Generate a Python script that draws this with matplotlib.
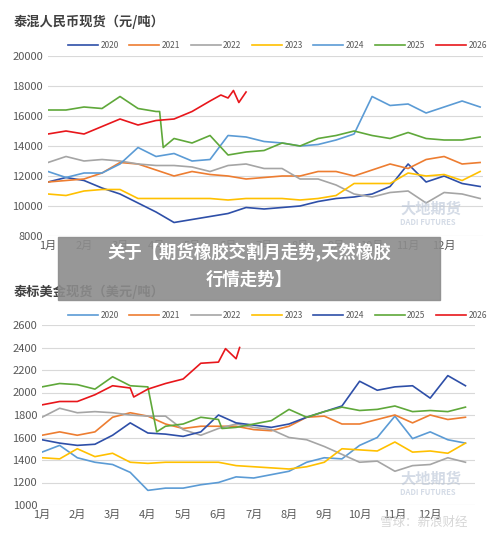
import matplotlib
matplotlib.use("Agg")
import matplotlib.pyplot as plt
import numpy as np

plt.rcParams['font.family'] = ['Noto Sans CJK SC', 'DejaVu Sans']

years = ['2020', '2021', '2022', '2023', '2024', '2025', '2026']
months = ['1月', '2月', '3月', '4月', '5月', '6月', '7月', '8月', '9月', '10月', '11月', '12月']
xg = list(np.arange(1, 13.01, 0.5))

# ---- top chart: RMB spot (元/吨)
top_x = {
    '2020': xg, '2021': xg, '2022': xg, '2023': xg, '2024': xg,
    '2025': [1, 1.5, 2, 2.5, 3, 3.5, 4, 4.1, 4.2, 4.5, 5, 5.5, 6, 6.5, 7, 7.5, 8, 8.5, 9, 9.5, 10, 10.5, 11, 11.5, 12, 12.5, 13],
    '2026': [1, 1.5, 2, 2.5, 3, 3.5, 4, 4.5, 5, 5.5, 5.8, 6, 6.15, 6.3, 6.5],
}
top_y = {
    '2020': [11600, 11900, 11700, 11200, 10800, 10200, 9600, 8900, 9100, 9300, 9500, 9900, 9800, 9900, 10000, 10300, 10500, 10600, 10800, 11300, 12800, 11600, 12000, 11500, 11300],
    '2021': [11600, 11700, 11800, 12200, 12900, 12800, 12400, 12000, 12300, 12100, 12000, 11800, 11900, 12000, 12000, 12300, 12300, 12000, 12400, 12800, 12500, 13100, 13300, 12800, 12900],
    '2022': [12900, 13300, 13000, 13100, 13000, 12800, 12700, 12700, 12600, 12300, 12700, 12800, 12500, 12500, 11800, 11800, 11400, 10800, 10600, 10900, 11000, 10200, 10900, 10800, 10500],
    '2023': [10800, 10700, 11000, 11100, 11100, 10500, 10500, 10500, 10500, 10500, 10400, 10500, 10500, 10500, 10400, 10500, 10700, 11500, 11500, 11500, 12200, 12000, 12100, 11700, 12300],
    '2024': [12300, 11900, 12200, 12200, 12800, 13900, 13300, 13500, 13000, 13100, 14700, 14600, 14300, 14200, 14000, 14100, 14400, 14800, 17300, 16700, 16800, 16200, 16600, 17000, 16600],
    '2025': [16400, 16400, 16600, 16500, 17300, 16500, 16300, 16300, 13900, 14500, 14200, 14700, 13400, 13600, 13700, 14200, 14000, 14500, 14700, 15000, 14700, 14500, 14900, 14500, 14400, 14400, 14600],
    '2026': [14800, 15000, 14800, 15300, 15800, 15400, 15700, 15800, 16300, 17000, 17400, 17200, 17700, 16900, 17600],
}
top_colors = {'2020': '#2E4FA8', '2021': '#ED7D31', '2022': '#A5A5A5', '2023': '#FFC000',
              '2024': '#5B9BD5', '2025': '#5FA83A', '2026': '#E8161B'}

# ---- bottom chart: USD spot (美元/吨)
bot_x = {
    '2020': xg, '2021': xg, '2022': xg, '2023': xg, '2024': xg,
    '2025': [1, 1.5, 2, 2.5, 3, 3.5, 4, 4.25, 4.5, 5, 5.5, 6, 6.1, 6.5, 7, 7.5, 8, 8.5, 9, 9.5, 10, 10.5, 11, 11.5, 12, 12.5, 13],
    '2026': [1, 1.5, 2, 2.5, 3, 3.5, 3.6, 4, 4.5, 5, 5.5, 6, 6.2, 6.5, 6.6],
}
bot_y = {
    '2020': [1470, 1530, 1420, 1380, 1360, 1290, 1130, 1150, 1150, 1180, 1200, 1250, 1240, 1270, 1300, 1380, 1420, 1410, 1530, 1600, 1790, 1590, 1650, 1580, 1550],
    '2021': [1620, 1650, 1620, 1650, 1780, 1820, 1790, 1720, 1680, 1700, 1700, 1700, 1670, 1660, 1700, 1780, 1790, 1720, 1720, 1760, 1800, 1730, 1800, 1760, 1780],
    '2022': [1780, 1860, 1820, 1830, 1820, 1800, 1790, 1790, 1670, 1620, 1680, 1720, 1690, 1670, 1600, 1580, 1520, 1450, 1380, 1390, 1300, 1350, 1360, 1420, 1380],
    '2023': [1420, 1410, 1500, 1430, 1460, 1380, 1370, 1380, 1380, 1380, 1380, 1350, 1340, 1330, 1320, 1340, 1380, 1500, 1490, 1480, 1560, 1470, 1480, 1460, 1550],
    '2024': [1580, 1550, 1530, 1540, 1620, 1730, 1640, 1630, 1610, 1650, 1800, 1730, 1710, 1690, 1720, 1780, 1830, 1880, 2100, 2020, 2050, 2060, 1950, 2150, 2060],
    '2025': [2050, 2080, 2070, 2030, 2140, 2060, 2050, 1650, 1700, 1720, 1780, 1760, 1680, 1690, 1720, 1750, 1850, 1780, 1830, 1870, 1840, 1850, 1880, 1830, 1840, 1830, 1870],
    '2026': [1890, 1920, 1920, 1980, 2060, 2040, 1960, 2030, 2080, 2120, 2260, 2270, 2390, 2300, 2400],
}
bot_colors = {'2020': '#5B9BD5', '2021': '#ED7D31', '2022': '#A5A5A5', '2023': '#FFC000',
              '2024': '#2E4FA8', '2025': '#5FA83A', '2026': '#E8161B'}

W, H = 500, 538
fig = plt.figure(figsize=(5.0, 5.38), dpi=100)
fig.patch.set_facecolor('white')


def make_axes(rect, xs, ys, colors, ylim, yticks, xlim, legend_y):
    ax = fig.add_axes(rect)
    lines = []
    for yr in years:
        ln, = ax.plot(xs[yr], ys[yr], color=colors[yr], lw=1.2, label=yr)
        lines.append(ln)
    ax.set_ylim(*ylim)
    ax.set_yticks(yticks)
    ax.set_xlim(*xlim)
    ax.set_xticks(range(1, 13))
    ax.set_xticklabels(months)
    ax.grid(axis='y', color='#D9D9D9', lw=0.8)
    ax.set_axisbelow(True)
    for s in ax.spines.values():
        s.set_visible(False)
    ax.tick_params(length=0, labelsize=8, colors='#595959')
    fig.legend(lines, years, loc='center', bbox_to_anchor=(0.555, legend_y), ncol=7,
               frameon=False, fontsize=6, handlelength=3.6, columnspacing=1.25,
               handletextpad=0.3, labelcolor='#595959')
    return ax


make_axes([48 / W, 1 - 236 / H, 435 / W, 180 / H], top_x, top_y, top_colors,
          (8000, 20000), range(8000, 20001, 2000), (1, 13.08), 1 - 45 / H)
make_axes([42 / W, 1 - 505 / H, 433 / W, 180 / H], bot_x, bot_y, bot_colors,
          (1000, 2600), range(1000, 2601, 200), (1, 13.27), 1 - 315 / H)

fig.text(14 / W, 1 - 22 / H, '泰混人民币现货（元/吨）', fontsize=9.5, fontweight='bold',
         color='#404040', va='center')
fig.text(14 / W, 1 - 292 / H, '泰标美金现货（美元/吨）', fontsize=9.5, fontweight='bold',
         color='#404040', va='center')

# watermarks
for yy in (1 - 215 / H, 1 - 485 / H):
    fig.text(400 / W, yy + 0.012, '大地期货', fontsize=11, color='#B8C4D6', alpha=0.6,
             fontweight='bold', va='center')
    fig.text(400 / W, yy - 0.014, 'DADI FUTURES', fontsize=5.5, color='#B8C4D6', alpha=0.6,
             fontweight='bold', va='center')
fig.text(380 / W, 1 - 522 / H, '雪球：新浪财经', fontsize=9, color='#CCCCCC', alpha=0.8, va='center')

# banner
fig.patches.append(plt.Rectangle((58 / W, 1 - 300 / H), 382 / W, 63 / H,
                                 transform=fig.transFigure, color='#8C8C8C', alpha=0.9, zorder=10))
fig.text(249 / W, 1 - 253 / H, '关于【期货橡胶交割月走势,天然橡胶', fontsize=12.5, fontweight='bold',
         color='white', ha='center', va='center', zorder=11)
fig.text(249 / W, 1 - 280 / H, '行情走势】', fontsize=12.5, fontweight='bold',
         color='white', ha='center', va='center', zorder=11)

fig.savefig('out.png', dpi=100)
